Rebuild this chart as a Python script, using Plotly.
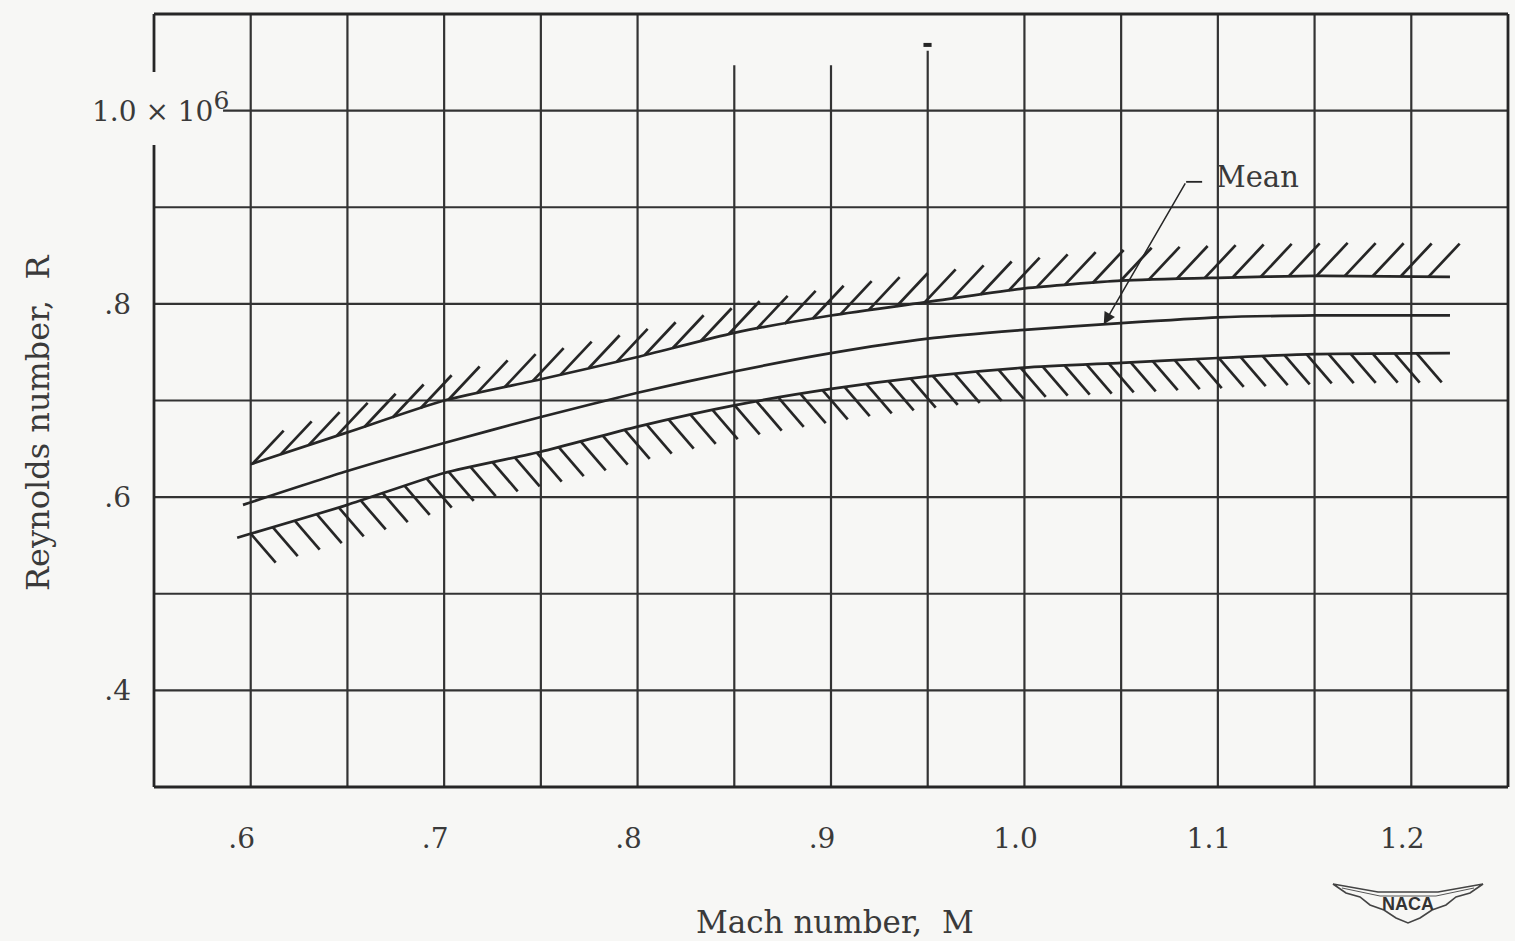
import numpy as np
import plotly.graph_objects as go

# ---------------- data ----------------
mach_upper = [0.600, 0.65, 0.70, 0.75, 0.80, 0.85, 0.90, 0.95, 1.00, 1.05, 1.10, 1.15, 1.22]
re_upper = [0.634, 0.667, 0.700, 0.722, 0.745, 0.770, 0.788, 0.802, 0.816, 0.824, 0.827, 0.829, 0.828]

mach_mean = [0.596, 0.65, 0.70, 0.75, 0.80, 0.85, 0.90, 0.95, 1.00, 1.05, 1.10, 1.15, 1.22]
re_mean = [0.592, 0.627, 0.656, 0.683, 0.708, 0.730, 0.749, 0.764, 0.773, 0.780, 0.786, 0.788, 0.788]

mach_lower = [0.593, 0.65, 0.70, 0.75, 0.80, 0.85, 0.90, 0.95, 1.00, 1.05, 1.10, 1.15, 1.22]
re_lower = [0.558, 0.592, 0.625, 0.647, 0.673, 0.695, 0.712, 0.725, 0.734, 0.739, 0.744, 0.748, 0.749]

x_tick_vals = [0.6, 0.7, 0.8, 0.9, 1.0, 1.1, 1.2]
x_tick_text = [".6", ".7", ".8", ".9", "1.0", "1.1", "1.2"]
y_tick_vals = [0.4, 0.6, 0.8]
y_tick_text = [".4", ".6", ".8"]
y_top_label = "1.0 \u00d7 10<sup><span style='font-size:25px'>6</span></sup>"

grid_x = [0.60, 0.65, 0.70, 0.75, 0.80, 0.85, 0.90, 0.95, 1.00, 1.05, 1.10, 1.15, 1.20]
grid_y = [0.4, 0.5, 0.6, 0.7, 0.8, 0.9, 1.0]

X_RANGE = [0.55, 1.25]
Y_RANGE = [0.3, 1.1]

# ---------------- styling constants ----------------
INK = "#262626"
GRID = "#333333"
TXT = "#3a3a3a"
BG = "#f7f7f5"
SERIF = "DejaVu Serif, serif"

L, R, T, B = 154, 7, 14, 154
W, H = 1515, 941
PW, PH = W - L - R, H - T - B
PX_PER_X = PW / (X_RANGE[1] - X_RANGE[0])
PX_PER_Y = PH / (Y_RANGE[1] - Y_RANGE[0])


def hatch(xs, ys, x_from, x_to, step_px, dx_px, dy_px):
    """Short tick marks hanging off a boundary curve."""
    bx = np.arange(x_from, x_to + 1e-9, step_px / PX_PER_X)
    by = np.interp(bx, xs, ys)
    hx, hy = [], []
    for a, b in zip(bx, by):
        hx += [a, a + dx_px / PX_PER_X, None]
        hy += [b, b + dy_px / PX_PER_Y, None]
    return hx, hy


fig = go.Figure()

# boundary curves and mean
for xs, ys in [(mach_upper, re_upper), (mach_mean, re_mean), (mach_lower, re_lower)]:
    fig.add_trace(go.Scatter(x=xs, y=ys, mode="lines",
                             line=dict(color=INK, width=2.7, shape="spline", smoothing=0.6),
                             hoverinfo="skip", showlegend=False))

ux, uy = hatch(mach_upper, re_upper, 0.601, 1.211, 28, 31, 33)
lx, ly = hatch(mach_lower, re_lower, 0.600, 1.210, 22, 25, -29)
for hx, hy in [(ux, uy), (lx, ly)]:
    fig.add_trace(go.Scatter(x=hx, y=hy, mode="lines",
                             line=dict(color=INK, width=2.7),
                             hoverinfo="skip", showlegend=False))

shapes = []
# vertical grid lines (some stop short of the top edge, as on the original sheet)
top_end = {0.85: 1.047, 0.90: 1.047, 0.95: 1.062}
for gx in grid_x:
    shapes.append(dict(type="line", xref="x", yref="y", x0=gx, x1=gx,
                       y0=Y_RANGE[0], y1=top_end.get(gx, Y_RANGE[1]),
                       line=dict(color=GRID, width=2.2), layer="below"))
# horizontal grid lines
left_start = {1.0: 0.5857}
for gy in grid_y:
    shapes.append(dict(type="line", xref="x", yref="y", x0=left_start.get(gy, X_RANGE[0]),
                       x1=X_RANGE[1], y0=gy, y1=gy,
                       line=dict(color=GRID, width=2.2), layer="below"))
# small pen mark at top
shapes.append(dict(type="line", xref="x", yref="y", x0=0.9478, x1=0.9520, y0=1.068, y1=1.068,
                   line=dict(color=INK, width=4)))


def py2paper(py):
    return (T + PH - py) / PH


def px2paper(px):
    return (px - L) / PW


# frame (left edge interrupted by the 10^6 label)
frame = dict(color=INK, width=2.8)
shapes += [
    dict(type="line", xref="paper", yref="paper", x0=0, x1=1, y0=1, y1=1, line=frame),
    dict(type="line", xref="paper", yref="paper", x0=0, x1=1, y0=0, y1=0, line=frame),
    dict(type="line", xref="paper", yref="paper", x0=1, x1=1, y0=0, y1=1, line=frame),
    dict(type="line", xref="paper", yref="paper", x0=0, x1=0, y0=py2paper(72), y1=1, line=frame),
    dict(type="line", xref="paper", yref="paper", x0=0, x1=0, y0=0, y1=py2paper(145), line=frame),
]

# leader for "Mean"
lead_x0, lead_y0 = 1.0836, 0.9263
shapes.append(dict(type="line", xref="x", yref="y", x0=lead_x0, x1=lead_x0 + 16 / PX_PER_X,
                   y0=lead_y0, y1=lead_y0, line=dict(color=INK, width=1.8)))

# NACA emblem (decoration, pixel outline converted to paper coordinates)
wing_px = [(1333, 884), (1378, 892), (1438, 892), (1483, 884), (1470, 893), (1456, 897),
           (1446, 905), (1432, 910), (1420, 918), (1408, 923), (1396, 918), (1384, 910),
           (1370, 905), (1360, 897), (1346, 893)]
path = "M " + " L ".join(f"{px2paper(a):.5f},{py2paper(b):.5f}" for a, b in wing_px) + " Z"
shapes.append(dict(type="path", xref="paper", yref="paper", path=path,
                   line=dict(color="#444", width=1.6), fillcolor="rgba(0,0,0,0)"))
inner_px = [(1342, 888), (1380, 896), (1436, 896), (1474, 888)]
path2 = "M " + " L ".join(f"{px2paper(a):.5f},{py2paper(b):.5f}" for a, b in inner_px)
shapes.append(dict(type="path", xref="paper", yref="paper", path=path2,
                   line=dict(color="#555", width=1.0)))

tip_x = 1.041
tip_y = float(np.interp(tip_x, mach_mean, re_mean))

annotations = [
    dict(x=tip_x, y=tip_y, ax=lead_x0, ay=lead_y0, axref="x", ayref="y", xref="x", yref="y",
         text="", showarrow=True, arrowhead=2, arrowsize=1.6, arrowwidth=1.5, arrowcolor=INK),
    dict(x=lead_x0 + 28 / PX_PER_X, y=lead_y0 + 5 / PX_PER_Y, xref="x", yref="y", text="Mean",
         showarrow=False, xanchor="left", yanchor="middle",
         font=dict(family=SERIF, size=29, color=TXT)),
    dict(x=px2paper(90), y=1.0, xref="paper", yref="y", text=y_top_label, showarrow=False,
         xanchor="left", yanchor="middle", yshift=4,
         font=dict(family=SERIF, size=28, color=TXT)),
    dict(x=px2paper(835), y=py2paper(922), xref="paper", yref="paper",
         text="Mach number,\u00a0\u00a0M", showarrow=False, xanchor="center", yanchor="middle",
         font=dict(family=SERIF, size=31, color=TXT)),
    dict(x=px2paper(38), y=py2paper(423), xref="paper", yref="paper",
         text="Reynolds number,\u00a0\u00a0R", showarrow=False, textangle=-90,
         xanchor="center", yanchor="middle",
         font=dict(family=SERIF, size=32, color=TXT)),
    dict(x=px2paper(1408), y=py2paper(904), xref="paper", yref="paper", text="<b>NACA</b>",
         showarrow=False, xanchor="center", yanchor="middle",
         font=dict(family="Liberation Sans, Arial, sans-serif", size=18, color="#333")),
]

fig.update_layout(
    width=W, height=H,
    margin=dict(l=L, r=R, t=T, b=B, pad=0),
    paper_bgcolor=BG, plot_bgcolor=BG,
    shapes=shapes, annotations=annotations,
    showlegend=False,
    xaxis=dict(range=X_RANGE, tickmode="array", tickvals=x_tick_vals, ticktext=x_tick_text,
               showgrid=False, zeroline=False, showline=False, ticks="",
               ticklabelstandoff=32, ticklabelshift=-9,
               tickfont=dict(family=SERIF, size=28, color=TXT)),
    yaxis=dict(range=Y_RANGE, tickmode="array", tickvals=y_tick_vals, ticktext=y_tick_text,
               showgrid=False, zeroline=False, showline=False, ticks="",
               ticklabelstandoff=22,
               tickfont=dict(family=SERIF, size=28, color=TXT)),
)

fig.write_html("out.html")
